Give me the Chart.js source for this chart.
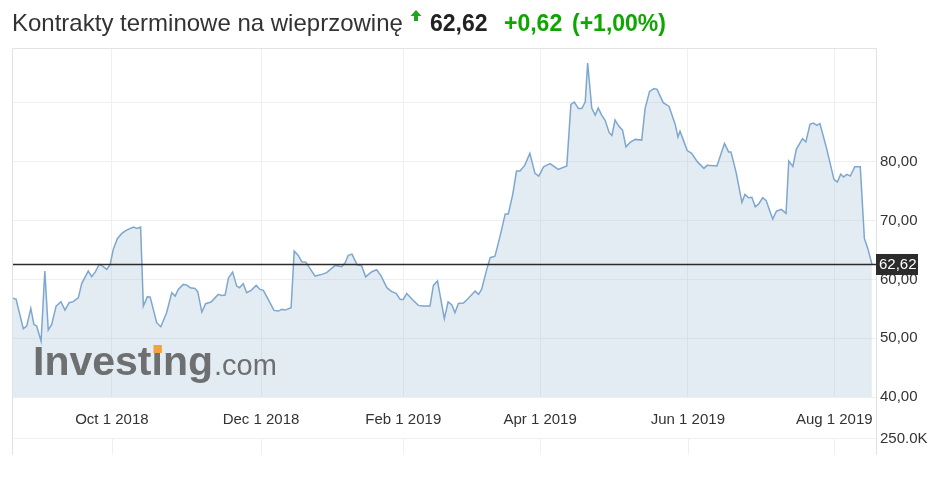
<!DOCTYPE html>
<html>
<head>
<meta charset="utf-8">
<script src="https://cdn.jsdelivr.net/npm/chart.js@4.4.1/dist/chart.umd.min.js"></script>
<style>
  body { margin: 0; background: #fff; font-family: "Liberation Sans", Arial, sans-serif; }
  #wrap { position: relative; width: 941px; height: 488px; }
  #chart { position: absolute; left: 0; top: 0; }
  .hdr { position: absolute; top: 8px; line-height: 30px; font-size: 23px; white-space: nowrap; }
  .name { left: 12px; color: #333; font-size: 24px; }
  .last { left: 430px; color: #222; font-weight: bold; }
  .chg { color: #0ea600; font-weight: bold; }
  .arrow { position: absolute; left: 410px; top: 10px; }
</style>
</head>
<body>
<div id="wrap">
  <canvas id="chart" width="941" height="488"></canvas>
  <div class="hdr name">Kontrakty terminowe na wieprzowinę</div>
  <svg class="arrow" width="12" height="12" viewBox="0 0 12 12">
    <path d="M6 0 L11.5 6 L8 6 L8 11 L4 11 L4 6 L0.5 6 Z" fill="#22a31f"/>
  </svg>
  <div class="hdr last">62,62</div>
  <div class="hdr chg" style="left:504px">+0,62</div>
  <div class="hdr chg" style="left:572px">(+1,00%)</div>
</div>
<script>
// trading-day index (0 = mid Aug 2018)
const days = [
  0.1, 1.2, 3.3, 4.3, 5.5, 6.4, 7.2, 8.5, 9.6, 10.6, 11.6, 12.9, 14.3, 15.5, 16.7, 17.9,
  19.4, 20.4, 22.3, 23.3, 24.3, 25.5, 26.5, 27.7, 28.7, 29.6, 30.8, 32.1, 33.5, 35.5, 36.5, 37.6,
  38.4, 39.6, 40.4, 42.3, 43.5, 45.2, 46.7, 47.7, 48.6, 50.1, 51.1, 52.1, 53.5, 54.3, 55.5, 56.6,
  58.2, 60.3, 61.3, 62.3, 63.3, 64.5, 65.7, 66.5, 67.6, 68.6, 69.9, 71.4, 72.5, 73.5, 74.9, 76.6,
  77.9, 78.9, 79.8, 81.6, 82.5, 83.7, 84.7, 85.9, 87.1, 88.6, 90.6, 92.0, 94.5, 96.4, 97.4, 98.3,
  99.4, 100.9, 102.2, 103.4, 105.2, 106.6, 107.9, 109.6, 111.0, 112.3, 113.5, 114.4, 115.4, 116.9, 118.8, 120.1,
  122.2, 123.2, 124.4, 126.4, 127.5, 128.6, 129.5, 130.5, 132.0, 133.5, 135.4, 136.4, 137.3, 138.8, 139.8, 141.2,
  142.7, 144.2, 145.1, 146.4, 147.5, 148.5, 149.9, 151.4, 152.9, 154.0, 155.4, 157.3, 159.7, 162.2, 163.4, 164.4,
  165.6, 166.6, 167.6, 168.3, 169.5, 170.5, 171.4, 172.4, 173.4, 174.6, 175.4, 176.3, 177.4, 178.5, 179.5, 180.7,
  182.2, 184.1, 185.1, 186.4, 187.7, 188.6, 189.5, 190.4, 192.1, 193.9, 194.7, 195.3, 196.3, 197.4, 198.7, 200.4,
  202.3, 203.2, 206.1, 208.3, 209.5, 210.2, 211.7, 213.4, 214.3, 215.3, 216.3, 217.3, 218.2, 219.5, 220.5, 221.4,
  222.4, 223.5, 224.9, 226.3, 227.1, 228.3, 229.3, 231.1, 232.1, 233.3, 234.3, 235.3, 236.2, 238.1, 240.3, 241.3,
  242.3, 243.1, 244.1, 245.1, 246.4, 248.0, 249.2, 250.2, 251.4
];
const prices = [
  56.85, 56.60, 51.62, 52.06, 55.07, 52.35, 52.06, 49.51, 61.41, 51.38, 52.35, 55.46, 56.21, 54.78, 56.04, 56.21,
  56.89, 59.32, 61.41, 60.46, 61.24, 62.55, 62.26, 61.70, 62.55, 65.10, 66.92, 67.82, 68.38, 68.89, 68.67, 68.89,
  55.46, 57.06, 56.99, 52.64, 51.96, 54.34, 57.74, 57.16, 58.30, 59.15, 59.03, 58.59, 58.47, 57.91, 54.44, 55.87,
  56.14, 57.45, 57.28, 57.33, 60.29, 61.24, 58.86, 58.59, 59.27, 57.74, 58.13, 58.98, 58.30, 58.13, 56.60, 54.73,
  54.61, 54.90, 54.78, 55.19, 64.81, 64.08, 63.01, 62.94, 61.87, 60.56, 60.85, 61.14, 62.38, 62.16, 62.84, 64.08,
  64.30, 62.47, 62.33, 60.43, 61.31, 61.65, 60.60, 58.59, 57.91, 57.62, 56.60, 56.60, 57.62, 56.68, 55.58, 55.46,
  55.46, 58.98, 59.74, 53.33, 56.17, 55.66, 54.34, 55.92, 55.97, 56.82, 58.01, 57.45, 58.30, 61.70, 63.69, 63.96,
  67.36, 71.14, 71.14, 74.46, 78.42, 78.45, 79.39, 81.43, 78.03, 77.57, 79.13, 79.68, 78.71, 79.30, 89.76, 90.15,
  89.05, 89.05, 90.19, 96.79, 89.12, 87.93, 89.13, 87.93, 87.04, 84.95, 84.49, 87.09, 86.07, 85.37, 82.53, 83.30,
  83.81, 83.69, 89.08, 91.97, 92.45, 92.31, 91.17, 90.05, 89.42, 86.36, 84.23, 85.22, 83.64, 81.90, 81.43, 79.98,
  78.88, 79.39, 79.27, 83.10, 81.68, 81.68, 78.20, 73.10, 74.46, 73.89, 73.95, 72.36, 72.76, 73.89, 73.40, 71.90,
  70.26, 71.62, 71.90, 71.22, 80.12, 79.22, 82.11, 83.93, 83.38, 86.36, 86.58, 86.19, 86.50, 82.40, 77.01, 76.55,
  77.91, 77.43, 77.86, 77.57, 79.17, 79.17, 66.97, 65.27, 62.62
];

const xTickPos = [29.2, 72.8, 114.4, 154.4, 197.6, 240.4];
const xTickLabels = ["Oct 1 2018", "Dec 1 2018", "Feb 1 2019", "Apr 1 2019", "Jun 1 2019", "Aug 1 2019"];
const yTicks = [40, 50, 60, 70, 80, 90];
const yTickLabels = ["40,00", "50,00", "60,00", "70,00", "80,00", ""];
const volumeLabel = "250.0K";

const FONT = '"Liberation Sans", Arial, sans-serif';

const decorations = {
  id: "decorations",
  afterDatasetsDraw(chart) {
    const ctx = chart.ctx;
    const area = chart.chartArea;
    const y = chart.scales.y;

    // watermark
    ctx.save();
    ctx.fillStyle = "#6e6f71";
    ctx.textBaseline = "alphabetic";
    ctx.font = "bold 41px " + FONT;
    ctx.fillText("Investing", 33, 375);
    const w = ctx.measureText("Investing").width;
    const wi = ctx.measureText("Invest").width;
    const iw = ctx.measureText("i").width;
    ctx.font = "29px " + FONT;
    ctx.fillText(".com", 34 + w, 375);
    ctx.fillStyle = "#f2a33a";
    ctx.fillRect(33 + wi + 2, 345, iw - 3, 8);
    ctx.restore();

    // last price line
    const last = prices[prices.length - 1];
    const py = Math.round(y.getPixelForValue(last)) + 0.5;
    ctx.save();
    ctx.strokeStyle = "#2b2b2b";
    ctx.lineWidth = 1.5;
    ctx.beginPath();
    ctx.moveTo(area.left, py);
    ctx.lineTo(area.right, py);
    ctx.stroke();
    ctx.restore();
  },
  afterDraw(chart) {
    const ctx = chart.ctx;
    const area = chart.chartArea;
    const x = chart.scales.x;
    const y = chart.scales.y;
    const bottom = 455;
    const volTop = 438;

    ctx.save();
    // volume pane
    ctx.strokeStyle = "#f0f0f0";
    ctx.lineWidth = 1;
    ctx.beginPath();
    ctx.moveTo(area.left, volTop + 0.5);
    ctx.lineTo(area.right, volTop + 0.5);
    xTickPos.forEach((v) => {
      const px = Math.round(x.getPixelForValue(v)) + 0.5;
      ctx.moveTo(px, volTop);
      ctx.lineTo(px, bottom);
    });
    ctx.stroke();

    // frame
    ctx.strokeStyle = "#e2e2e2";
    ctx.beginPath();
    ctx.moveTo(area.left + 0.5, bottom);
    ctx.lineTo(area.left + 0.5, area.top + 0.5);
    ctx.lineTo(area.right + 0.5, area.top + 0.5);
    ctx.lineTo(area.right + 0.5, bottom);
    ctx.stroke();

    ctx.fillStyle = "#333";
    ctx.font = "15px " + FONT;
    ctx.textBaseline = "middle";
    ctx.fillText(volumeLabel, area.right + 4, volTop + 1);

    // last price tag
    const last = prices[prices.length - 1];
    const py = y.getPixelForValue(last);
    ctx.fillStyle = "#2b2b2b";
    ctx.fillRect(area.right, py - 10, 42, 21);
    ctx.fillStyle = "#fff";
    ctx.fillText(last.toFixed(2).replace(".", ","), area.right + 3, py + 1);
    ctx.restore();
  },
};

new Chart(document.getElementById("chart"), {
  type: "line",
  data: {
    datasets: [
      {
        data: days.map((d, i) => ({ x: d, y: prices[i] })),
        borderColor: "#7ea7cf",
        borderWidth: 1.5,
        backgroundColor: "rgba(165,192,215,0.3)",
        fill: "start",
        pointRadius: 0,
        tension: 0,
      },
    ],
  },
  options: {
    responsive: false,
    animation: false,
    events: [],
    layout: { padding: { left: 12, top: 48, right: 0, bottom: 58 } },
    plugins: { legend: { display: false }, tooltip: { enabled: false } },
    scales: {
      x: {
        type: "linear",
        min: 0,
        max: 252.6,
        afterBuildTicks: (scale) => {
          scale.ticks = xTickPos.map((v) => ({ value: v }));
        },
        afterFit: (scale) => {
          scale.height = 33;
        },
        grid: { color: "#efefef", drawTicks: false },
        border: { display: false },
        ticks: {
          autoSkip: false,
          maxRotation: 0,
          padding: 14,
          color: "#333",
          font: { family: FONT, size: 15 },
          callback: (v, i) => xTickLabels[i],
        },
      },
      y: {
        position: "right",
        min: 40,
        max: 99.35,
        afterBuildTicks: (scale) => {
          scale.ticks = yTicks.map((v) => ({ value: v }));
        },
        afterFit: (scale) => {
          scale.width = 65;
        },
        grid: { color: "#efefef", drawTicks: false },
        border: { display: false },
        ticks: {
          padding: 4,
          color: "#333",
          font: { family: FONT, size: 15 },
          callback: (v, i) => yTickLabels[i],
        },
      },
    },
  },
  plugins: [decorations],
});
</script>
</body>
</html>
